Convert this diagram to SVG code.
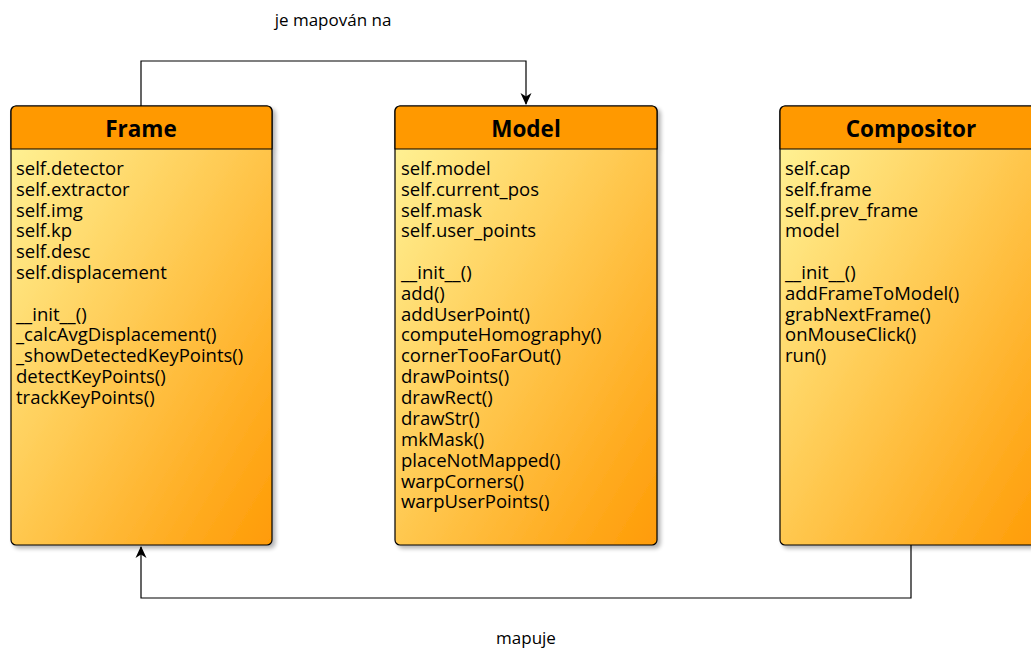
<svg xmlns="http://www.w3.org/2000/svg" width="1031" height="648" viewBox="0 0 1031 648">
<defs>
<linearGradient id="g" x1="0" y1="0" x2="1" y2="1">
<stop offset="0" stop-color="#fff59a"/>
<stop offset="1" stop-color="#ff9b05"/>
</linearGradient>
<filter id="sh" x="-10%" y="-10%" width="130%" height="130%">
<feGaussianBlur in="SourceAlpha" stdDeviation="2"/>
<feOffset dx="3" dy="3"/>
<feComponentTransfer><feFuncA type="linear" slope="0.3"/></feComponentTransfer>
<feMerge><feMergeNode/><feMergeNode in="SourceGraphic"/></feMerge>
</filter>
<marker id="arr" viewBox="0 0 12 12" refX="11" refY="6" markerWidth="12" markerHeight="12" markerUnits="userSpaceOnUse" orient="auto">
<path d="M0,0.5 L12,6 L0,11.5 L3.5,6 Z" fill="#000"/>
</marker>
</defs>
<style>
.body{fill:url(#g);stroke:#000;stroke-width:1.2}
.head{fill:#ff9900;stroke:#000;stroke-width:1.2}
.t{font-family:"Open Sans","Noto Sans",sans-serif;font-size:18.5px;fill:#000}
.h{font-family:"Open Sans","Noto Sans",sans-serif;font-size:22.5px;font-weight:bold;fill:#000;text-anchor:middle}
.lbl{font-family:"Open Sans","Noto Sans",sans-serif;font-size:17px;fill:#000;text-anchor:middle}
.c{fill:none;stroke:#000;stroke-width:1.2}
</style>
<g id="connectors">
<path class="c" d="M141,106 V61 H526 V104" marker-end="url(#arr)"/>
<text class="lbl" x="333" y="26">je mapován na</text>
<path class="c" d="M911,545 V598 H141 V547" marker-end="url(#arr)"/>
<text class="lbl" x="526" y="644">mapuje</text>
</g>
<g id="frame">
<g filter="url(#sh)">
<rect class="body" x="11" y="106" width="261" height="439" rx="5"/>
<path class="head" d="M11,149 V111 A5,5 0 0 1 16,106 H267 A5,5 0 0 1 272,111 V149 Z"/>
</g>
<text class="h" x="141" y="137">Frame</text>
<text class="t" x="16" y="175">self.detector</text>
<text class="t" x="16" y="196">self.extractor</text>
<text class="t" x="16" y="217">self.img</text>
<text class="t" x="16" y="237">self.kp</text>
<text class="t" x="16" y="258">self.desc</text>
<text class="t" x="16" y="279">self.displacement</text>
<text class="t" x="16" y="321">__init__()</text>
<text class="t" x="16" y="341">_calcAvgDisplacement()</text>
<text class="t" x="16" y="362">_showDetectedKeyPoints()</text>
<text class="t" x="16" y="383">detectKeyPoints()</text>
<text class="t" x="16" y="404">trackKeyPoints()</text>
</g>
<g id="model">
<g filter="url(#sh)">
<rect class="body" x="395" y="106" width="262" height="439" rx="5"/>
<path class="head" d="M395,149 V111 A5,5 0 0 1 400,106 H652 A5,5 0 0 1 657,111 V149 Z"/>
</g>
<text class="h" x="526" y="137">Model</text>
<text class="t" x="401" y="175">self.model</text>
<text class="t" x="401" y="196">self.current_pos</text>
<text class="t" x="401" y="217">self.mask</text>
<text class="t" x="401" y="237">self.user_points</text>
<text class="t" x="401" y="279">__init__()</text>
<text class="t" x="401" y="300">add()</text>
<text class="t" x="401" y="321">addUserPoint()</text>
<text class="t" x="401" y="341">computeHomography()</text>
<text class="t" x="401" y="362">cornerTooFarOut()</text>
<text class="t" x="401" y="383">drawPoints()</text>
<text class="t" x="401" y="404">drawRect()</text>
<text class="t" x="401" y="425">drawStr()</text>
<text class="t" x="401" y="446">mkMask()</text>
<text class="t" x="401" y="467">placeNotMapped()</text>
<text class="t" x="401" y="488">warpCorners()</text>
<text class="t" x="401" y="508">warpUserPoints()</text>
</g>
<g id="compositor">
<g filter="url(#sh)">
<rect class="body" x="780" y="106" width="262" height="439" rx="5"/>
<path class="head" d="M780,149 V111 A5,5 0 0 1 785,106 H1037 A5,5 0 0 1 1042,111 V149 Z"/>
</g>
<text class="h" x="911" y="137">Compositor</text>
<text class="t" x="785" y="175">self.cap</text>
<text class="t" x="785" y="196">self.frame</text>
<text class="t" x="785" y="217">self.prev_frame</text>
<text class="t" x="785" y="237">model</text>
<text class="t" x="785" y="279">__init__()</text>
<text class="t" x="785" y="300">addFrameToModel()</text>
<text class="t" x="785" y="321">grabNextFrame()</text>
<text class="t" x="785" y="341">onMouseClick()</text>
<text class="t" x="785" y="362">run()</text>
</g>
</svg>
